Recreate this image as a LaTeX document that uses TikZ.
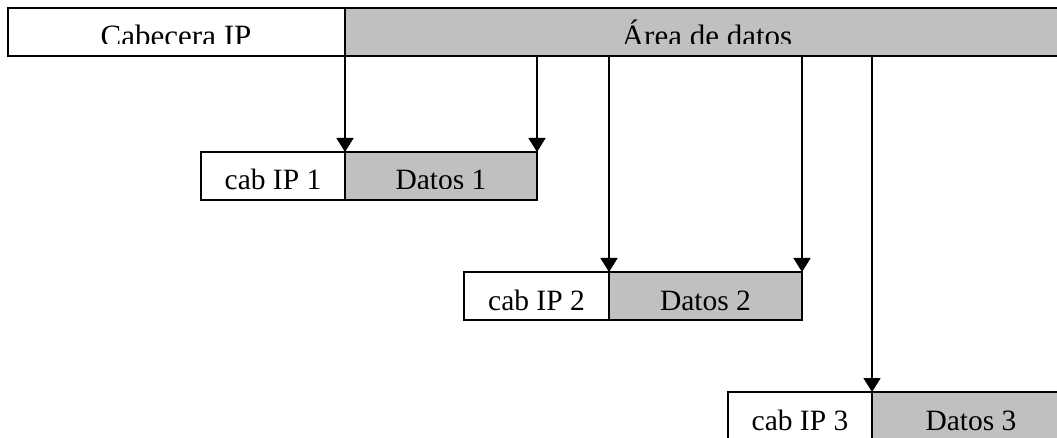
\documentclass[tikz,border=0pt]{standalone}
\usepackage{fontspec}
\setmainfont{Liberation Serif}
\usetikzlibrary{arrows.meta}
\definecolor{cellgray}{HTML}{C0C0C0}
\begin{document}
\begin{tikzpicture}[x=1pt,y=-1pt,
  cell/.style={draw=black,line width=1.6pt,minimum height=48pt,inner sep=0pt,
    outer sep=0pt,anchor=north west},
  hdrcell/.style={cell,fill=white},
  datacell/.style={cell,fill=cellgray},
  lbl/.style={anchor=base,inner sep=0pt,font=\fontsize{29.5}{32}\selectfont},
  toplbl/.style={lbl,font=\fontsize{31}{34}\selectfont},
  feed/.style={line width=1.6pt,-{Triangle[width=17pt,length=14pt]}}]
\clip (0,0) rectangle (1057,438);
\fill[white] (0,0) rectangle (1057,438);

% original datagram
\node[hdrcell,minimum width=337pt] (hdr) at (8,8) {};
\node[datacell,minimum width=730pt] (area) at (345,8) {};

% fragments
\node[hdrcell,minimum width=144pt] (cab1) at (201,152) {};
\node[datacell,minimum width=192pt] (dat1) at (345,152) {};
\node[hdrcell,minimum width=145pt] (cab2) at (464,272) {};
\node[datacell,minimum width=193pt] (dat2) at (609,272) {};
\node[hdrcell,minimum width=144pt] (cab3) at (728,392) {};
\node[datacell,minimum width=196pt] (dat3) at (872,392) {};

% data area split into the fragments
\draw[feed] (dat1.north west |- area.south) -- (dat1.north west);
\draw[feed] (dat1.north east |- area.south) -- (dat1.north east);
\draw[feed] (dat2.north west |- area.south) -- (dat2.north west);
\draw[feed] (dat2.north east |- area.south) -- (dat2.north east);
\draw[feed] (dat3.north west |- area.south) -- (dat3.north west);

% labels
\begin{scope}
  \clip (0,0) rectangle (1057,44);
  \node[toplbl] (thdr) at (176,46.5) {Cabecera IP};
  \node[toplbl] (tarea) at (707,46.5) {Área de datos};
\end{scope}
\node[lbl] (tcab1) at ([yshift=10pt]cab1.south) {cab IP 1};
\begin{scope}
  \clip (345,150) rectangle (537,189);
  \node[lbl] (tdat1) at ([yshift=10pt]dat1.south) {Datos 1};
\end{scope}
\node[lbl] (tcab2) at ([yshift=10pt]cab2.south) {cab IP 2};
\node[lbl] (tdat2) at ([yshift=10pt]dat2.south) {Datos 2};
\node[lbl] (tcab3) at ([yshift=10pt]cab3.south) {cab IP 3};
\node[lbl] (tdat3) at ([yshift=10pt]dat3.south -| 971,0) {Datos 3};
\end{tikzpicture}
\end{document}
